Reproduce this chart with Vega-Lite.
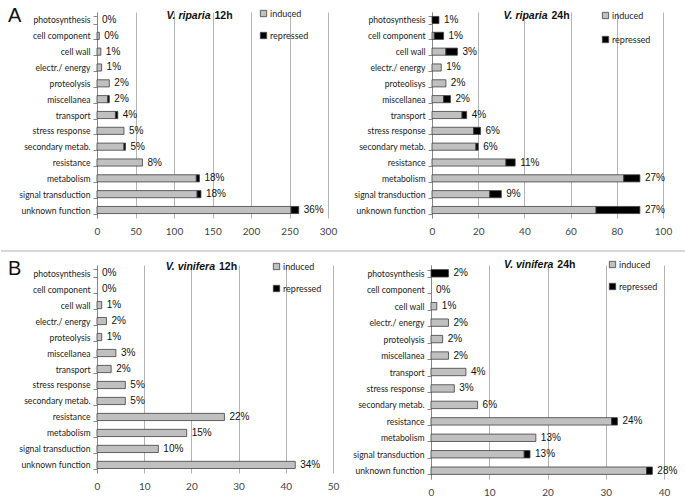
{
  "$schema": "https://vega.github.io/schema/vega-lite/v6.json",
  "padding": {"left": 0, "top": 6, "right": 0, "bottom": 0},
  "background": "white",
  "config": {
    "view": {"stroke": null},
    "font": "Lato",
    "axisY": {"domainColor": "#888888", "tickColor": "#888888", "tickSize": 4, "tickBand": "extent", "labelFont": "Lato", "labelFontSize": 8.6, "labelColor": "#222222", "labelPadding": 3, "grid": false},
    "axisX": {"domain": false, "ticks": false, "grid": true, "gridColor": "#b4b4b4", "labelFont": "Lato", "labelFontSize": 10, "labelColor": "#444444", "labelPadding": 8, "labelOverlap": false, "labelFlush": false},
    "legend": {"orient": "none", "title": null, "symbolType": "square", "symbolSize": 40, "symbolStrokeColor": "#404040", "symbolStrokeWidth": 0.8, "labelFont": "Lato", "labelFontSize": 9, "labelColor": "#222222", "rowPadding": 12, "labelOffset": 2},
    "title": {"font": "Liberation Sans", "fontSize": 20, "fontWeight": "normal", "anchor": "start", "frame": "group", "baseline": "top", "color": "#111111"}
  },
  "spacing": 7,
  "align": "none",
  "resolve": {"scale": {"x": "independent", "y": "independent", "fill": "independent"}},
  "vconcat": [
    {
      "spacing": 10,
      "resolve": {"scale": {"x": "independent", "y": "independent", "fill": "independent"}},
      "hconcat": [
        {
          "width": 231, "height": 206,
          "title": {"text": "A", "dx": -89, "offset": -18},
          "data": {"values": [
            {"category": "photosynthesis", "induced": 0, "repressed": 0, "label": "0%"},
            {"category": "cell component", "induced": 3, "repressed": 0, "label": "0%"},
            {"category": "cell wall", "induced": 5, "repressed": 0, "label": "1%"},
            {"category": "electr./ energy", "induced": 6, "repressed": 0, "label": "1%"},
            {"category": "proteolysis", "induced": 16, "repressed": 0, "label": "2%"},
            {"category": "miscellanea", "induced": 14, "repressed": 2, "label": "2%"},
            {"category": "transport", "induced": 24, "repressed": 3, "label": "4%"},
            {"category": "stress response", "induced": 35, "repressed": 0, "label": "5%"},
            {"category": "secondary metab.", "induced": 35, "repressed": 2, "label": "5%"},
            {"category": "resistance", "induced": 59, "repressed": 0, "label": "8%"},
            {"category": "metabolism", "induced": 129, "repressed": 4, "label": "18%"},
            {"category": "signal transduction", "induced": 130, "repressed": 5, "label": "18%"},
            {"category": "unknown function", "induced": 252, "repressed": 10, "label": "36%"}
          ]},
          "layer": [
            {
              "transform": [{"fold": ["induced", "repressed"], "as": ["type", "count"]}, {"filter": "datum.count > 0"}],
              "mark": {"type": "bar", "stroke": "#404040", "strokeWidth": 0.8},
              "encoding": {
                "y": {"field": "category", "type": "nominal", "sort": null, "title": null,
                  "scale": {"domain": ["photosynthesis", "cell component", "cell wall", "electr./ energy", "proteolysis", "miscellanea", "transport", "stress response", "secondary metab.", "resistance", "metabolism", "signal transduction", "unknown function"], "paddingInner": 0.55, "paddingOuter": 0.28},
                  "axis": {"minExtent": 96, "maxExtent": 96}},
                "x": {"field": "count", "type": "quantitative", "stack": "zero", "title": null, "scale": {"domain": [0, 300], "nice": false}, "axis": {"values": [0, 50, 100, 150, 200, 250, 300]}},
                "fill": {"field": "type", "type": "nominal", "scale": {"domain": ["induced", "repressed"], "range": ["#c0c0c0", "#000000"]}, "legend": {"legendX": 162, "legendY": -3, "rowPadding": 11}}
              }
            },
            {
              "transform": [{"fold": ["induced", "repressed"], "as": ["type", "count"]}],
              "mark": {"type": "text", "align": "left", "baseline": "middle", "dx": 5, "font": "Liberation Sans", "fontSize": 10, "color": "#111111"},
              "encoding": {
                "y": {"field": "category", "type": "nominal", "sort": null, "title": null},
                "x": {"aggregate": "sum", "field": "count", "type": "quantitative", "title": null, "scale": {"domain": [0, 300], "nice": false}, "axis": {"values": [0, 50, 100, 150, 200, 250, 300]}},
                "text": {"field": "label"}
              }
            },
            {
              "data": {"values": [{}]},
              "mark": {"type": "text", "text": "V. riparia", "align": "right", "baseline": "middle", "dx": -2, "dy": -4, "font": "Liberation Sans", "fontSize": 10.5, "fontWeight": "bold", "fontStyle": "italic", "color": "#111111"},
              "encoding": {"x": {"datum": 150, "type": "quantitative", "axis": {"values": [0, 50, 100, 150, 200, 250, 300]}}, "y": {"datum": "photosynthesis", "type": "nominal"}}
            },
            {
              "data": {"values": [{}]},
              "mark": {"type": "text", "text": "12h", "align": "left", "baseline": "middle", "dx": 2, "dy": -4, "font": "Liberation Sans", "fontSize": 10.5, "fontWeight": "bold", "color": "#111111"},
              "encoding": {"x": {"datum": 150, "type": "quantitative", "axis": {"values": [0, 50, 100, 150, 200, 250, 300]}}, "y": {"datum": "photosynthesis", "type": "nominal"}}
            }
          ]
        },
        {
          "width": 231, "height": 206,
          "data": {"values": [
            {"category": "photosynthesis", "induced": 0, "repressed": 3, "label": "1%"},
            {"category": "cell component", "induced": 1, "repressed": 4, "label": "1%"},
            {"category": "cell wall", "induced": 6, "repressed": 5, "label": "3%"},
            {"category": "electr./ energy", "induced": 4, "repressed": 0, "label": "1%"},
            {"category": "proteolisys", "induced": 6, "repressed": 0, "label": "2%"},
            {"category": "miscellanea", "induced": 5, "repressed": 3, "label": "2%"},
            {"category": "transport", "induced": 13, "repressed": 2, "label": "4%"},
            {"category": "stress response", "induced": 18, "repressed": 3, "label": "6%"},
            {"category": "secondary metab.", "induced": 19, "repressed": 1, "label": "6%"},
            {"category": "resistance", "induced": 32, "repressed": 4, "label": "11%"},
            {"category": "metabolism", "induced": 83, "repressed": 7, "label": "27%"},
            {"category": "signal transduction", "induced": 25, "repressed": 5, "label": "9%"},
            {"category": "unknown function", "induced": 71, "repressed": 19, "label": "27%"}
          ]},
          "layer": [
            {
              "transform": [{"fold": ["induced", "repressed"], "as": ["type", "count"]}, {"filter": "datum.count > 0"}],
              "mark": {"type": "bar", "stroke": "#404040", "strokeWidth": 0.8},
              "encoding": {
                "y": {"field": "category", "type": "nominal", "sort": null, "title": null,
                  "scale": {"domain": ["photosynthesis", "cell component", "cell wall", "electr./ energy", "proteolisys", "miscellanea", "transport", "stress response", "secondary metab.", "resistance", "metabolism", "signal transduction", "unknown function"], "paddingInner": 0.55, "paddingOuter": 0.28},
                  "axis": {"minExtent": 85, "maxExtent": 85}},
                "x": {"field": "count", "type": "quantitative", "stack": "zero", "title": null, "scale": {"domain": [0, 100], "nice": false}, "axis": {"values": [0, 20, 40, 60, 80, 100]}},
                "fill": {"field": "type", "type": "nominal", "scale": {"domain": ["induced", "repressed"], "range": ["#c0c0c0", "#000000"]}, "legend": {"legendX": 169, "legendY": -1, "rowPadding": 13}}
              }
            },
            {
              "transform": [{"fold": ["induced", "repressed"], "as": ["type", "count"]}],
              "mark": {"type": "text", "align": "left", "baseline": "middle", "dx": 5, "font": "Liberation Sans", "fontSize": 10, "color": "#111111"},
              "encoding": {
                "y": {"field": "category", "type": "nominal", "sort": null, "title": null},
                "x": {"aggregate": "sum", "field": "count", "type": "quantitative", "title": null, "scale": {"domain": [0, 100], "nice": false}, "axis": {"values": [0, 20, 40, 60, 80, 100]}},
                "text": {"field": "label"}
              }
            },
            {
              "data": {"values": [{}]},
              "mark": {"type": "text", "text": "V. riparia", "align": "right", "baseline": "middle", "dx": 0, "dy": -4, "font": "Liberation Sans", "fontSize": 10.5, "fontWeight": "bold", "fontStyle": "italic", "color": "#111111"},
              "encoding": {"x": {"datum": 50, "type": "quantitative", "axis": {"values": [0, 20, 40, 60, 80, 100]}}, "y": {"datum": "photosynthesis", "type": "nominal"}}
            },
            {
              "data": {"values": [{}]},
              "mark": {"type": "text", "text": "24h", "align": "left", "baseline": "middle", "dx": 4, "dy": -4, "font": "Liberation Sans", "fontSize": 10.5, "fontWeight": "bold", "color": "#111111"},
              "encoding": {"x": {"datum": 50, "type": "quantitative", "axis": {"values": [0, 20, 40, 60, 80, 100]}}, "y": {"datum": "photosynthesis", "type": "nominal"}}
            }
          ]
        }
      ]
    },
    {
      "width": 589, "height": 8,
      "data": {"values": [{}]},
      "mark": {"type": "rule", "color": "#b0b0b0", "strokeWidth": 1, "clip": false},
      "encoding": {
        "x": {"datum": -96, "type": "quantitative", "scale": {"domain": [0, 589], "nice": false, "zero": false}, "axis": null},
        "x2": {"datum": 589},
        "y": {"datum": 0, "type": "quantitative", "scale": {"domain": [0, 1], "nice": false}, "axis": null}
      }
    },
    {
      "spacing": 10,
      "resolve": {"scale": {"x": "independent", "y": "independent", "fill": "independent"}},
      "hconcat": [
        {
          "width": 236, "height": 208,
          "title": {"text": "B", "dx": -89, "offset": -18},
          "data": {"values": [
            {"category": "photosynthesis", "induced": 0, "repressed": 0, "label": "0%"},
            {"category": "cell component", "induced": 0, "repressed": 0, "label": "0%"},
            {"category": "cell wall", "induced": 1, "repressed": 0, "label": "1%"},
            {"category": "electr./ energy", "induced": 2, "repressed": 0, "label": "2%"},
            {"category": "proteolysis", "induced": 1, "repressed": 0, "label": "1%"},
            {"category": "miscellanea", "induced": 4, "repressed": 0, "label": "3%"},
            {"category": "transport", "induced": 3, "repressed": 0, "label": "2%"},
            {"category": "stress response", "induced": 6, "repressed": 0, "label": "5%"},
            {"category": "secondary metab.", "induced": 6, "repressed": 0, "label": "5%"},
            {"category": "resistance", "induced": 27, "repressed": 0, "label": "22%"},
            {"category": "metabolism", "induced": 19, "repressed": 0, "label": "15%"},
            {"category": "signal transduction", "induced": 13, "repressed": 0, "label": "10%"},
            {"category": "unknown function", "induced": 42, "repressed": 0, "label": "34%"}
          ]},
          "layer": [
            {
              "transform": [{"fold": ["induced", "repressed"], "as": ["type", "count"]}, {"filter": "datum.count > 0"}],
              "mark": {"type": "bar", "stroke": "#404040", "strokeWidth": 0.8},
              "encoding": {
                "y": {"field": "category", "type": "nominal", "sort": null, "title": null,
                  "scale": {"domain": ["photosynthesis", "cell component", "cell wall", "electr./ energy", "proteolysis", "miscellanea", "transport", "stress response", "secondary metab.", "resistance", "metabolism", "signal transduction", "unknown function"], "paddingInner": 0.55, "paddingOuter": 0.28},
                  "axis": {"minExtent": 93, "maxExtent": 93}},
                "x": {"field": "count", "type": "quantitative", "stack": "zero", "title": null, "scale": {"domain": [0, 50], "nice": false}, "axis": {"values": [0, 10, 20, 30, 40, 50]}},
                "fill": {"field": "type", "type": "nominal", "scale": {"domain": ["induced", "repressed"], "range": ["#c0c0c0", "#000000"]}, "legend": {"legendX": 175, "legendY": -3, "rowPadding": 11}}
              }
            },
            {
              "transform": [{"fold": ["induced", "repressed"], "as": ["type", "count"]}],
              "mark": {"type": "text", "align": "left", "baseline": "middle", "dx": 5, "font": "Liberation Sans", "fontSize": 10, "color": "#111111"},
              "encoding": {
                "y": {"field": "category", "type": "nominal", "sort": null, "title": null},
                "x": {"aggregate": "sum", "field": "count", "type": "quantitative", "title": null, "scale": {"domain": [0, 50], "nice": false}, "axis": {"values": [0, 10, 20, 30, 40, 50]}},
                "text": {"field": "label"}
              }
            },
            {
              "data": {"values": [{}]},
              "mark": {"type": "text", "text": "V. vinifera", "align": "right", "baseline": "middle", "dx": 0, "dy": -6, "font": "Liberation Sans", "fontSize": 10.5, "fontWeight": "bold", "fontStyle": "italic", "color": "#111111"},
              "encoding": {"x": {"datum": 25, "type": "quantitative", "axis": {"values": [0, 10, 20, 30, 40, 50]}}, "y": {"datum": "photosynthesis", "type": "nominal"}}
            },
            {
              "data": {"values": [{}]},
              "mark": {"type": "text", "text": "12h", "align": "left", "baseline": "middle", "dx": 4, "dy": -6, "font": "Liberation Sans", "fontSize": 10.5, "fontWeight": "bold", "color": "#111111"},
              "encoding": {"x": {"datum": 25, "type": "quantitative", "axis": {"values": [0, 10, 20, 30, 40, 50]}}, "y": {"datum": "photosynthesis", "type": "nominal"}}
            }
          ]
        },
        {
          "width": 233, "height": 214,
          "data": {"values": [
            {"category": "photosynthesis", "induced": 0, "repressed": 3, "label": "2%"},
            {"category": "cell component", "induced": 0, "repressed": 0, "label": "0%"},
            {"category": "cell wall", "induced": 1, "repressed": 0, "label": "1%"},
            {"category": "electr./ energy", "induced": 3, "repressed": 0, "label": "2%"},
            {"category": "proteolysis", "induced": 2, "repressed": 0, "label": "2%"},
            {"category": "miscellanea", "induced": 3, "repressed": 0, "label": "2%"},
            {"category": "transport", "induced": 6, "repressed": 0, "label": "4%"},
            {"category": "stress response", "induced": 4, "repressed": 0, "label": "3%"},
            {"category": "secondary metab.", "induced": 8, "repressed": 0, "label": "6%"},
            {"category": "resistance", "induced": 31, "repressed": 1, "label": "24%"},
            {"category": "metabolism", "induced": 18, "repressed": 0, "label": "13%"},
            {"category": "signal transduction", "induced": 16, "repressed": 1, "label": "13%"},
            {"category": "unknown function", "induced": 37, "repressed": 1, "label": "28%"}
          ]},
          "layer": [
            {
              "transform": [{"fold": ["induced", "repressed"], "as": ["type", "count"]}, {"filter": "datum.count > 0"}],
              "mark": {"type": "bar", "stroke": "#404040", "strokeWidth": 0.8},
              "encoding": {
                "y": {"field": "category", "type": "nominal", "sort": null, "title": null,
                  "scale": {"domain": ["photosynthesis", "cell component", "cell wall", "electr./ energy", "proteolysis", "miscellanea", "transport", "stress response", "secondary metab.", "resistance", "metabolism", "signal transduction", "unknown function"], "paddingInner": 0.55, "paddingOuter": 0.28},
                  "axis": {"minExtent": 82, "maxExtent": 82}},
                "x": {"field": "count", "type": "quantitative", "stack": "zero", "title": null, "scale": {"domain": [0, 40], "nice": false}, "axis": {"values": [0, 10, 20, 30, 40]}},
                "fill": {"field": "type", "type": "nominal", "scale": {"domain": ["induced", "repressed"], "range": ["#c0c0c0", "#000000"]}, "legend": {"legendX": 177, "legendY": -5, "rowPadding": 11}}
              }
            },
            {
              "transform": [{"fold": ["induced", "repressed"], "as": ["type", "count"]}],
              "mark": {"type": "text", "align": "left", "baseline": "middle", "dx": 5, "font": "Liberation Sans", "fontSize": 10, "color": "#111111"},
              "encoding": {
                "y": {"field": "category", "type": "nominal", "sort": null, "title": null},
                "x": {"aggregate": "sum", "field": "count", "type": "quantitative", "title": null, "scale": {"domain": [0, 40], "nice": false}, "axis": {"values": [0, 10, 20, 30, 40]}},
                "text": {"field": "label"}
              }
            },
            {
              "data": {"values": [{}]},
              "mark": {"type": "text", "text": "V. vinifera", "align": "right", "baseline": "middle", "dx": 0, "dy": -8, "font": "Liberation Sans", "fontSize": 10.5, "fontWeight": "bold", "fontStyle": "italic", "color": "#111111"},
              "encoding": {"x": {"datum": 21, "type": "quantitative", "axis": {"values": [0, 10, 20, 30, 40]}}, "y": {"datum": "photosynthesis", "type": "nominal"}}
            },
            {
              "data": {"values": [{}]},
              "mark": {"type": "text", "text": "24h", "align": "left", "baseline": "middle", "dx": 4, "dy": -8, "font": "Liberation Sans", "fontSize": 10.5, "fontWeight": "bold", "color": "#111111"},
              "encoding": {"x": {"datum": 21, "type": "quantitative", "axis": {"values": [0, 10, 20, 30, 40]}}, "y": {"datum": "photosynthesis", "type": "nominal"}}
            }
          ]
        }
      ]
    }
  ]
}
